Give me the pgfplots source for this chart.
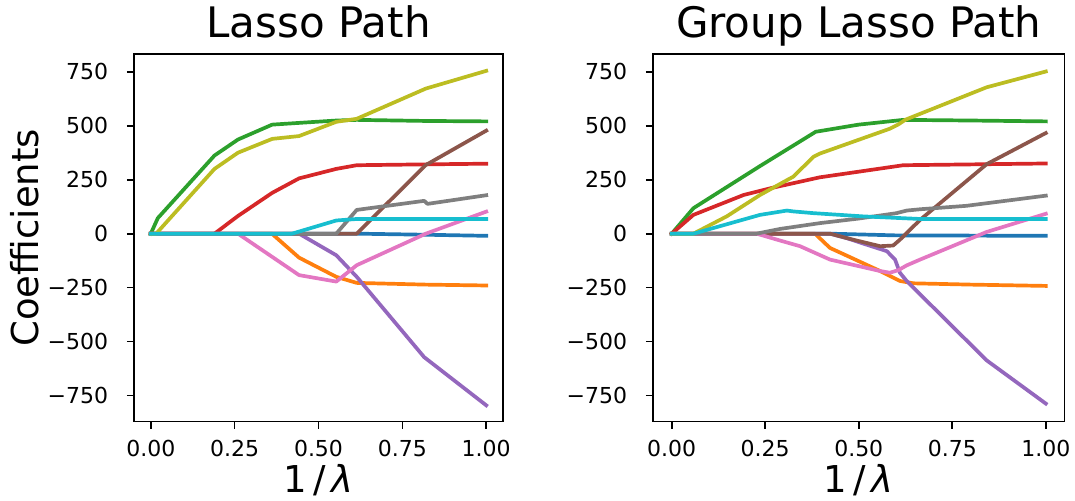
\documentclass[border=0pt]{standalone}
\usepackage{fontspec}
\setmainfont{DejaVu Sans}
\usepackage{pgfplots}
\pgfplotsset{compat=1.18}
\definecolor{C0}{HTML}{1F77B4}
\definecolor{C1}{HTML}{FF7F0E}
\definecolor{C2}{HTML}{2CA02C}
\definecolor{C3}{HTML}{D62728}
\definecolor{C4}{HTML}{9467BD}
\definecolor{C5}{HTML}{8C564B}
\definecolor{C6}{HTML}{E377C2}
\definecolor{C7}{HTML}{7F7F7F}
\definecolor{C8}{HTML}{BCBD22}
\definecolor{C9}{HTML}{17BECF}
\pgfplotsset{pathstyle/.style={
  scale only axis, height=183.75pt,
  xmin=-0.05, xmax=1.05, ymin=-870, ymax=832,
  axis line style={line width=0.85pt},
  tick style={line width=0.85pt, black},
  major tick length=3.6pt,
  tick align=outside,
  xtick pos=left, ytick pos=left,
  xtick={0,0.25,0.5,0.75,1}, xticklabels={0.00,0.25,0.50,0.75,1.00},
  ytick={-750,-500,-250,0,250,500,750},
  yticklabels={−750,−500,−250,0,250,500,750},
  ticklabel style={font=\fontsize{11}{13}\selectfont, inner sep=0pt},
  xticklabel style={anchor=base, yshift=-13.8pt},
  yticklabel style={anchor=east, xshift=-9.15pt},
  title style={font=\fontsize{21}{25}\selectfont, at={(0.5,1)}, anchor=base, yshift=2.5pt},
  xlabel style={font=\fontsize{18.5}{22}\selectfont, at={(0.5,0)}, anchor=base, yshift=-35.5pt},
  ylabel style={font=\fontsize{18.5}{22}\selectfont, at={(-0.260,0.5)}, anchor=base},
  every axis plot/.append style={line width=1.85pt, line join=round, line cap=rect},
}}
\begin{document}
\begin{tikzpicture}
\useasboundingbox (0,0) rectangle (537.5pt,250pt);
\begin{axis}[pathstyle, width=184.5pt, at={(67pt,39.25pt)}, anchor=south west,
  title={Lasso Path}, xlabel={1\,/\,\textit{λ}}, ylabel={Coefficients}]
\addplot[C0] coordinates {(0,0) (0.614,0) (0.82,-5) (1,-10)};
\addplot[C1] coordinates {(0,0) (0.361,0) (0.442,-111) (0.553,-200) (0.614,-228) (0.82,-236) (1,-240)};
\addplot[C2] coordinates {(0,0) (0.021,72) (0.19,362) (0.26,436) (0.362,505) (0.442,513) (0.553,524) (0.614,527) (0.82,522) (1,520)};
\addplot[C3] coordinates {(0,0) (0.19,0) (0.26,82) (0.362,189) (0.442,256) (0.553,300) (0.614,317) (0.82,321) (1,324)};
\addplot[C4] coordinates {(0,0) (0.442,0) (0.553,-100) (0.614,-200) (0.815,-572) (1,-795)};
\addplot[C5] coordinates {(0,0) (0.614,0) (0.82,318) (1,477)};
\addplot[C6] coordinates {(0,0) (0.26,0) (0.442,-192) (0.553,-222) (0.614,-146) (0.82,0) (1,102)};
\addplot[C7] coordinates {(0,0) (0.553,0) (0.614,110) (0.815,152) (0.825,138) (1,178)};
\addplot[C8] coordinates {(0,0) (0.016,0) (0.19,300) (0.26,375) (0.362,439) (0.442,452) (0.553,518) (0.614,532) (0.82,672) (1,754)};
\addplot[C9] coordinates {(0,0) (0.421,0) (0.553,61) (0.614,68) (1,68)};
\end{axis}
\begin{axis}[pathstyle, width=205.75pt, at={(326.5pt,39.25pt)}, anchor=south west,
  title={Group Lasso Path}, xlabel={1\,/\,\textit{λ}}]
\addplot[C0] coordinates {(0,0) (0.423,0) (0.6,-8) (1,-10)};
\addplot[C1] coordinates {(0,0) (0.383,0) (0.423,-66) (0.557,-173) (0.61,-219) (0.646,-230) (0.8,-236) (1,-242)};
\addplot[C2] coordinates {(0,0) (0.058,118) (0.236,313) (0.385,472) (0.5,505) (0.619,527) (0.8,524) (1,520)};
\addplot[C3] coordinates {(0,0) (0.058,87) (0.192,179) (0.263,210) (0.396,261) (0.619,317) (1,325)};
\addplot[C4] coordinates {(0,0) (0.423,0) (0.47,-22) (0.521,-51) (0.575,-81) (0.597,-120) (0.61,-181) (0.628,-219) (0.664,-281) (0.842,-587) (1,-787)};
\addplot[C5] coordinates {(0,0) (0.423,0) (0.49,-30) (0.557,-58) (0.592,-55) (0.61,-28) (0.664,64) (0.842,322) (1,466)};
\addplot[C6] coordinates {(0,0) (0.227,0) (0.29,-32) (0.343,-58) (0.423,-120) (0.557,-173) (0.583,-181) (0.606,-169) (0.628,-147) (0.664,-120) (0.842,8) (1,92)};
\addplot[C7] coordinates {(0,0) (0.227,0) (0.29,22) (0.397,49) (0.5,70) (0.601,95) (0.628,107) (0.664,113) (0.788,129) (1,176)};
\addplot[C8] coordinates {(0,0) (0.058,0) (0.147,80) (0.236,179) (0.325,264) (0.379,356) (0.396,371) (0.583,486) (0.605,505) (0.625,528) (0.842,678) (1,751)};
\addplot[C9] coordinates {(0,0) (0.058,0) (0.236,87) (0.308,107) (0.325,103) (0.379,95) (0.512,80) (0.664,68) (1,68)};
\end{axis}
\end{tikzpicture}
\end{document}
